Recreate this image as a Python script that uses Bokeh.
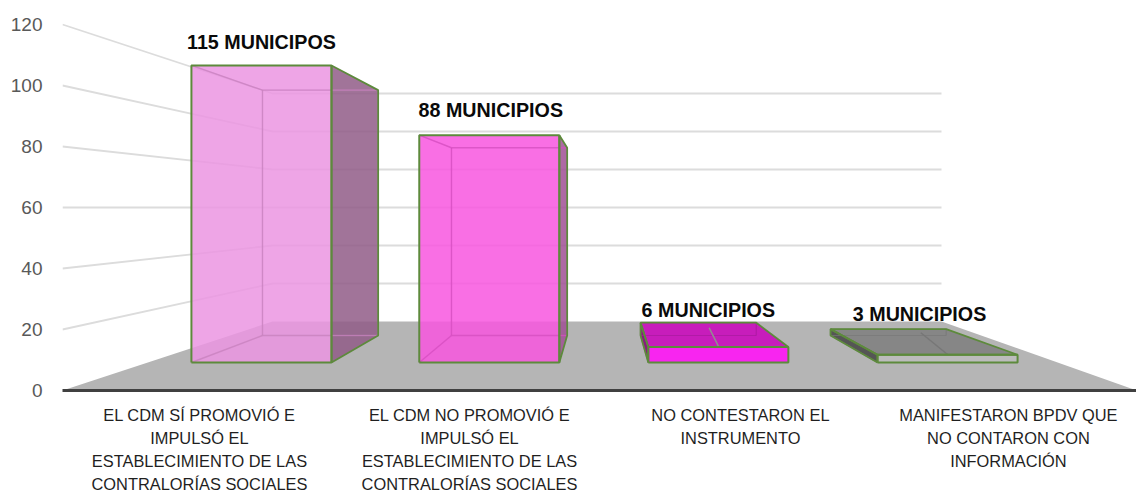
from bokeh.plotting import figure
from bokeh.embed import file_html
from bokeh.resources import INLINE
from bokeh.models import FixedTicker, Range1d, ColumnDataSource
from bokeh.core.properties import value as fixed

# ---- data ----
categories = [
    "EL CDM SÍ PROMOVIÓ E\nIMPULSÓ EL\nESTABLECIMIENTO DE LAS\nCONTRALORÍAS SOCIALES",
    "EL CDM NO PROMOVIÓ E\nIMPULSÓ EL\nESTABLECIMIENTO DE LAS\nCONTRALORÍAS SOCIALES",
    "NO CONTESTARON EL\nINSTRUMENTO",
    "MANIFESTARON BPDV QUE\nNO CONTARON CON\nINFORMACIÓN",
]
values = [115, 88, 6, 3]
bar_labels = ["115 MUNICIPOS", "88 MUNICIPIOS", "6 MUNICIPIOS", "3 MUNICIPIOS"]
value_ticks = [0, 20, 40, 60, 80, 100, 120]

# ---- layout of the 3-D box ----
PX_X = 268.5          # px per category unit on the front plane
PX_Y = 3.05           # px per value unit on the front plane
INSET_L = 210 / PX_X  # left wall inset at the back plane
INSET_R = 195 / PX_X  # right floor inset at the back plane
RISE = 69 / PX_Y      # floor rise front to back
SHRINK = 1 - 1.9 / PX_Y
T_FRONT, T_BACK = 0.406, 0.797
bar_left_front = [0.048, 0.2985, 0.5503, 0.8023]
bar_left_back = [0.0434, 0.295, 0.5467, 0.7996]
bar_width = 0.154
tick_pos = [0.51, 1.516, 2.525, 3.523]
label_dx = [0, 1.5, -10, -28]
label_dy = [23, 25, 37, 41]
top_line = {2: (0.628, 0.42, 0.633, 0.716, "#8f8f8f"), 3: (0.88, 0.41, 0.908, 0.741, "#777777")}
styles = [
    dict(front="#eb95e2", side="#915c87", top="#eb95e2", talpha=0.0, alpha=0.85, inner="#c27fb8"),
    dict(front="#f856df", side="#a04f94", top="#f856df", talpha=0.0, alpha=0.85, inner="#d050bc"),
    dict(front="#f825f0", side="#8a1a80", top="#c71dbb", talpha=1.0, alpha=1.0, inner="#a81a9e"),
    dict(front="#bcbcbc", side="#555555", top="#868686", talpha=1.0, alpha=1.0, inner="#777777"),
]
GREEN = "#5d8a3c"
GRID = "#dcdcdc"


def P(u, t, v):
    """Project (floor fraction u, depth t, value v) to chart coordinates."""
    left = INSET_L * t
    right = 4 - INSET_R * t
    return left + u * (right - left), RISE * t + v * (1 - SHRINK * t)


def path(*pts):
    return [q[0] for q in pts], [q[1] for q in pts]


p = figure(
    frame_width=1074, frame_height=378, output_backend="svg", toolbar_location=None,
    x_range=Range1d(0, 4), y_range=Range1d(0, 378 / PX_Y),
    min_border_left=62, min_border_right=0, min_border_top=12, min_border_bottom=93,
    outline_line_color=None, background_fill_color="white", border_fill_color="white",
    margin=(0, 0, -20, 0),
)
p.grid.visible = False

# y axis
ya = p.yaxis[0]
ya.ticker = FixedTicker(ticks=value_ticks)
ya.axis_line_color = None
ya.major_tick_line_color = None
ya.minor_tick_line_color = None
ya.major_label_text_font = "Liberation Sans"
ya.major_label_text_font_size = "19px"
ya.major_label_text_color = "#595959"
ya.major_label_standoff = 14

# x axis
xa = p.xaxis[0]
xa.ticker = FixedTicker(ticks=tick_pos)
xa.major_label_overrides = {k: c for k, c in zip(tick_pos, categories)}
xa.axis_line_color = "#404040"
xa.axis_line_width = 3
xa.major_tick_line_color = None
xa.minor_tick_line_color = None
xa.major_label_text_font = "Liberation Sans"
xa.major_label_text_font_size = "16.4px"
xa.major_label_text_color = "#1f1f1f"
xa.major_label_text_line_height = 1.28
xa.major_label_standoff = 9
xa.major_label_orientation = "horizontal"

# walls' grid lines
for v in value_ticks[1:]:
    xs, ys = path(P(0, 0, v), P(0, 1, v), P(1, 1, v))
    p.line(xs, ys, line_color=GRID, line_width=1.8)

# floor
xs, ys = path(P(0, 0, 0), P(0, 1, 0), P(1, 1, 0), P(1, 0, 0))
p.patch(xs, ys, fill_color="#b5b5b5", line_color=None)

# bars
for i, v in enumerate(values):
    st = styles[i]
    a, b = bar_left_front[i], bar_left_front[i] + bar_width
    c, d = bar_left_back[i], bar_left_back[i] + bar_width
    f, k = T_FRONT, T_BACK
    fl0, fr0, fl1, fr1 = P(a, f, 0), P(b, f, 0), P(a, f, v), P(b, f, v)
    bl0, br0, bl1, br1 = P(c, k, 0), P(d, k, 0), P(c, k, v), P(d, k, v)

    right_visible = br0[0] > fr0[0] and i < 2
    side = (fr0, br0, br1, fr1) if right_visible else (fl0, bl0, bl1, fl1)
    top_visible = bl1[1] > fl1[1]

    xs, ys = path(*side)
    p.patch(xs, ys, fill_color=st["side"], fill_alpha=st["alpha"], line_color=None)
    if top_visible:
        xs, ys = path(fl1, fr1, br1, bl1)
        p.patch(xs, ys, fill_color=st["top"], fill_alpha=st["talpha"], line_color=None)

    # hidden edges seen through the translucent faces
    for seg in [(bl0, bl1), (bl1, br1), (bl0, br0), (br0, br1), (fl0, bl0), (fl1, bl1)]:
        xs, ys = path(*seg)
        p.line(xs, ys, line_color=st["inner"], line_width=1.2, line_alpha=0.7)

    xs, ys = path(fl0, fr0, fr1, fl1)
    p.patch(xs, ys, fill_color=st["front"], fill_alpha=st["alpha"], line_color=None)
    if i < 2:
        for seg in [(bl0, bl1), (bl1, br1), (bl0, br0), (fl0, bl0), (fl1, bl1)]:
            xs, ys = path(*seg)
            p.line(xs, ys, line_color=st["inner"], line_width=1.4, line_alpha=0.65)

    if i in top_line:
        u0, t0, u1, t1, col = top_line[i]
        xs, ys = path(P(u0, t0, v), P(u1, t1, v))
        p.line(xs, ys, line_color=col, line_width=1.5)

    # green outlines
    xs, ys = path(*side, side[0])
    p.line(xs, ys, line_color=GREEN, line_width=1.8)
    if top_visible:
        xs, ys = path(fl1, fr1, br1, bl1, fl1)
        p.line(xs, ys, line_color=GREEN, line_width=1.8)
    xs, ys = path(fl0, fr0, fr1, fl1, fl0)
    p.line(xs, ys, line_color=GREEN, line_width=2)

# value labels
anchors = [P(bar_left_front[i] + bar_width / 2, T_FRONT, v) for i, v in enumerate(values)]
src = ColumnDataSource(dict(
    x=[q[0] for q in anchors], y=[q[1] for q in anchors], t=bar_labels,
    dx=label_dx, dy=[-d for d in label_dy],
))
p.text("x", "y", text="t", source=src, x_offset="dx", y_offset="dy",
       text_font=fixed("Liberation Sans"), text_font_style="bold",
       text_font_size="19.7px", text_color="#0a0a0a",
       text_align="center", text_baseline="middle")

open("out.html", "w").write(file_html(p, INLINE))
